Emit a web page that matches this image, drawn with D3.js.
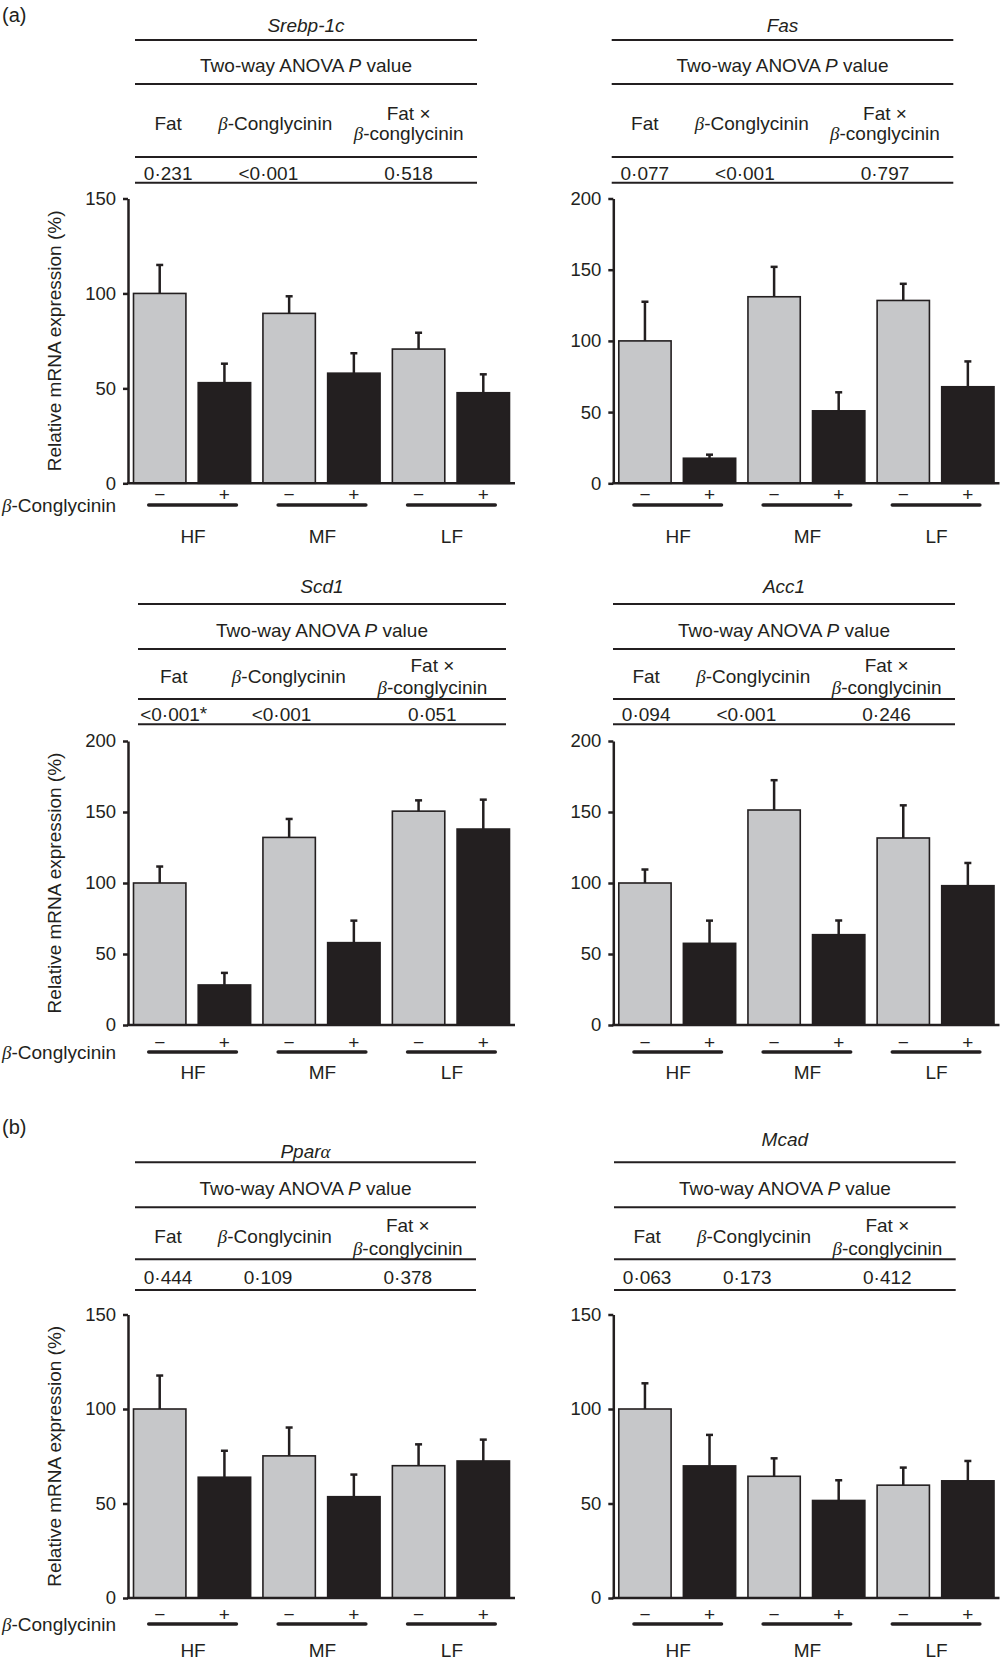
<!DOCTYPE html>
<html>
<head>
<meta charset="utf-8">
<script src="https://cdn.jsdelivr.net/npm/d3@7"></script>
<style>
  body { margin: 0; background: #fff; overflow: hidden; }
  svg { display: block; }
  svg text { font-family: "Liberation Sans", Arial, sans-serif; fill: #231f20; }
</style>
</head>
<body>
<svg width="1000" height="1665"></svg>
<script>
// ---- data ----
const genes = ['Srebp-1c', 'Fas', 'Scd1', 'Acc1', 'Ppar', 'Mcad'];
const fatGroups = ['HF', 'MF', 'LF'];
const conglycinin = ['\u2212', '+'];
const barKeys = ['HF-', 'HF+', 'MF-', 'MF+', 'LF-', 'LF+'];

const srebpMean = [100, 53, 89.5, 58, 70.7, 47.7];
const srebpSem  = [15, 10, 9, 10.5, 8.6, 9.7];
const fasMean   = [100, 17.6, 131, 50.9, 128.4, 67.8];
const fasSem    = [27.5, 2.5, 21, 13, 11.7, 17.8];
const scd1Mean  = [100, 28.2, 132.1, 58, 150.6, 138];
const scd1Sem   = [11.6, 8.5, 13, 15.5, 7.6, 20.7];
const acc1Mean  = [100, 57.5, 151.4, 63.6, 131.7, 98.1];
const acc1Sem   = [9.5, 16, 21, 10, 23, 16];
const pparaMean = [100, 63.9, 75.2, 53.6, 70, 72.5];
const pparaSem  = [17.7, 14, 15, 11.7, 11.3, 11.3];
const mcadMean  = [100, 69.9, 64.4, 51.6, 59.7, 62];
const mcadSem   = [13.6, 16.4, 9.5, 10.7, 9.3, 10.5];

const yMax = [150, 200, 200, 200, 150, 150];
const yTicks = [0, 50, 100, 150, 200];

const pFat = ['0\u00b7231', '0\u00b7077', '<0\u00b7001', '0\u00b7094', '0\u00b7444', '0\u00b7063'];
const pConglycinin = ['<0\u00b7001', '<0\u00b7001', '<0\u00b7001', '<0\u00b7001', '0\u00b7109', '0\u00b7173'];
const pInteraction = ['0\u00b7518', '0\u00b7797', '0\u00b7051', '0\u00b7246', '0\u00b7378', '0\u00b7412'];
const fatStar = [false, false, true, false, false, false];

const means = [srebpMean, fasMean, scd1Mean, acc1Mean, pparaMean, mcadMean];
const sems = [srebpSem, fasSem, scd1Sem, acc1Sem, pparaSem, mcadSem];

// ---- layout ----
let svg = d3.select('svg');
const ink = '#231f20', grey = '#c6c7c9';
const fs = 19;

const rows = [
  {title: 25, lines: [40, 84, 157, 182.7], anova: 65, head: 123, head2: [113, 133], vals: 173,
   top: 198.5, bottom: 483.3, signs: 494, bar: 505, group: 536.7},
  {title: 586.7, lines: [604, 649, 699, 724.3], anova: 630, head: 676.7, head2: [665, 687.7], vals: 714,
   top: 741, bottom: 1025, signs: 1042, bar: 1052, group: 1072},
  {title: 1151.5, lines: [1162.3, 1207.3, 1259.3, 1290], anova: 1188.3, head: 1236.7, head2: [1225, 1248.3], vals: 1277.7,
   top: 1314.5, bottom: 1598, signs: 1614.3, bar: 1624, group: 1650.5}
];
const cols = [{x0: 128, x1: 515}, {x0: 613.3, x1: 999.5}];
const tables = [[135, 477], [611.7, 953.3], [138, 506], [613, 955], [135, 476], [614, 955.7]];
const titleY = [null, null, null, null, null, 1139.3];

function txt(g, x, y, s, anchor) {
  return g.append('text').attr('x', x).attr('y', y).attr('dy', '0.35em')
    .attr('text-anchor', anchor || 'middle').attr('font-size', fs).text(s);
}
function beta(t) {
  t.append('tspan').attr('font-family', '"Liberation Serif", "Times New Roman", serif')
    .attr('font-style', 'italic').text('\u03b2');
}

txt(svg, 2, 15, '(a)', 'start').attr('font-size', 20);
txt(svg, 2, 1126.7, '(b)', 'start').attr('font-size', 20);

genes.forEach(function(gene, i) {
  let r = rows[Math.floor(i / 2)], c = cols[i % 2], tb = tables[i];
  let g = svg.append('g');
  let tw = tb[1] - tb[0], tc = (tb[0] + tb[1]) / 2;

  // title
  let t = g.append('text').attr('x', tc).attr('y', titleY[i] || r.title).attr('dy', '0.35em')
    .attr('text-anchor', 'middle').attr('font-size', fs).attr('font-style', 'italic');
  if (gene === 'Ppar') {
    t.append('tspan').text('Ppar');
    t.append('tspan').attr('font-family', '"Liberation Serif", serif').text('\u03b1');
  } else t.text(gene);

  // table rules
  g.selectAll('.rule').data(r.lines).enter().append('line')
    .attr('x1', tb[0]).attr('x2', tb[1]).attr('y1', d => d).attr('y2', d => d)
    .attr('stroke', ink).attr('stroke-width', 2);

  let a = g.append('text').attr('x', tc).attr('y', r.anova).attr('dy', '0.35em')
    .attr('text-anchor', 'middle').attr('font-size', fs);
  a.append('tspan').text('Two-way ANOVA ');
  a.append('tspan').attr('font-style', 'italic').text('P');
  a.append('tspan').text(' value');

  txt(g, tb[0] + 0.097 * tw, r.head, 'Fat');
  let h2 = txt(g, tb[0] + 0.41 * tw, r.head, '');
  beta(h2); h2.append('tspan').text('-Conglycinin');
  txt(g, tb[0] + 0.80 * tw, r.head2[0], 'Fat \u00d7');
  let h3 = txt(g, tb[0] + 0.80 * tw, r.head2[1], '');
  beta(h3); h3.append('tspan').text('-conglycinin');

  let v1 = txt(g, tb[0] + 0.097 * tw, r.vals, '');
  v1.append('tspan').text(pFat[i]);
  if (fatStar[i]) v1.append('tspan').attr('dy', '-0.05em').attr('font-size', 19).text('*');
  txt(g, tb[0] + 0.39 * tw, r.vals, pConglycinin[i]);
  txt(g, tb[0] + 0.80 * tw, r.vals, pInteraction[i]);

  // chart
  let x = d3.scaleBand().domain(barKeys).range([c.x0, c.x1]).paddingInner(0.19).paddingOuter(0.085);
  let y = d3.scaleLinear().domain([0, yMax[i]]).range([r.bottom, r.top]);
  let data = barKeys.map((k, j) => ({key: k, mean: means[i][j], sem: sems[i][j], plus: j % 2 === 1}));

  g.selectAll('.bar').data(data).enter().append('rect')
    .attr('x', d => x(d.key)).attr('width', x.bandwidth())
    .attr('y', d => y(d.mean)).attr('height', d => y(0) - y(d.mean))
    .attr('fill', d => d.plus ? ink : grey).attr('stroke', ink).attr('stroke-width', 1.6);

  let cx = d => x(d.key) + x.bandwidth() / 2;
  g.selectAll('.err').data(data).enter().append('line')
    .attr('x1', cx).attr('x2', cx).attr('y1', d => y(d.mean)).attr('y2', d => y(d.mean + d.sem))
    .attr('stroke', ink).attr('stroke-width', 2.5);
  g.selectAll('.cap').data(data).enter().append('line')
    .attr('x1', d => cx(d) - 3.5).attr('x2', d => cx(d) + 3.5)
    .attr('y1', d => y(d.mean + d.sem)).attr('y2', d => y(d.mean + d.sem))
    .attr('stroke', ink).attr('stroke-width', 2.5);

  let ax = g.append('g').attr('transform', 'translate(' + c.x0 + ',0)')
    .call(d3.axisLeft(y).tickValues(yTicks.filter(v => v <= yMax[i])).tickSize(5).tickSizeOuter(0).tickPadding(7));
  ax.select('.domain').attr('stroke', ink).attr('stroke-width', 2.5);
  ax.selectAll('.tick line').attr('stroke', ink).attr('stroke-width', 2.5);
  ax.selectAll('.tick text').attr('font-size', 18.5).attr('font-family', null).attr('fill', ink);

  g.append('line').attr('x1', c.x0 - 1).attr('x2', c.x1).attr('y1', y(0)).attr('y2', y(0))
    .attr('stroke', ink).attr('stroke-width', 2.5);

  // treatment signs and fat groups
  g.selectAll('.sign').data(data).enter().append('text')
    .attr('x', cx).attr('y', r.signs).attr('dy', '0.35em').attr('text-anchor', 'middle')
    .attr('font-size', 19).text(d => conglycinin[d.plus ? 1 : 0]);

  fatGroups.forEach(function(f, k) {
    let a1 = x(barKeys[2 * k]) + x.bandwidth() / 2, a2 = x(barKeys[2 * k + 1]) + x.bandwidth() / 2;
    g.append('line').attr('x1', a1 - 11).attr('x2', a2 + 12).attr('y1', r.bar).attr('y2', r.bar)
      .attr('stroke', ink).attr('stroke-width', 3.5).attr('stroke-linecap', 'round');
    txt(g, (a1 + a2) / 2 + 1, r.group, f);
  });

  if (i % 2 === 0) {
    g.append('text').attr('transform', 'translate(54,' + ((r.top + r.bottom) / 2) + ') rotate(-90)')
      .attr('dy', '0.35em').attr('text-anchor', 'middle').attr('font-size', fs)
      .text('Relative mRNA expression (%)');
    let bl = txt(g, 2, r.bar, '', 'start');
    beta(bl); bl.append('tspan').text('-Conglycinin');
  }
});
</script>
</body>
</html>
